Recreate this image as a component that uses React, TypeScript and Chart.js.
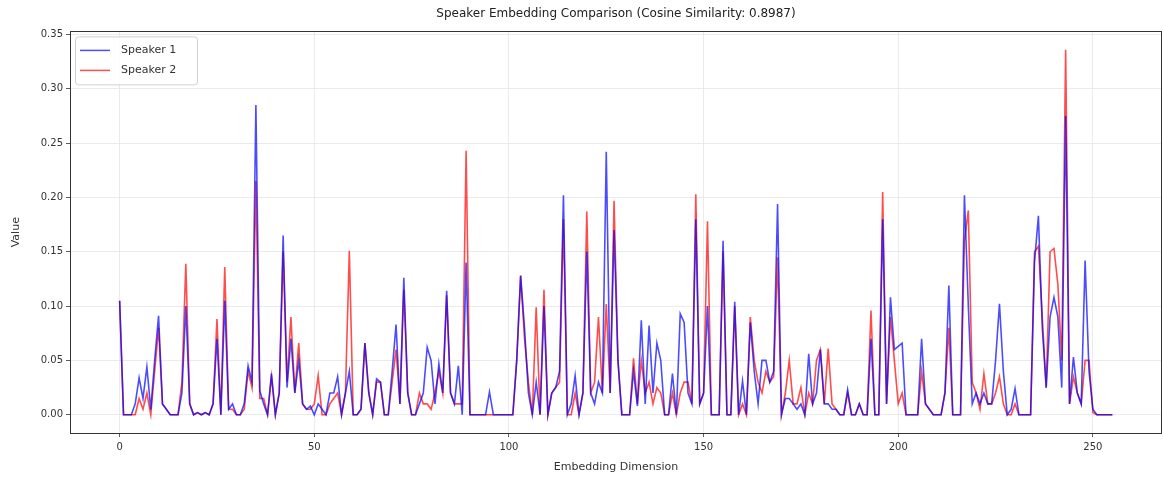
import React, { useEffect, useRef } from "react";
import { Chart, registerables } from "chart.js";

Chart.register(...registerables);

const dims: number[] = Array.from({ length: 256 }, (_, i) => i);

const speaker1: number[] = [
  0.105, 0, 0, 0, 0.01, 0.034, 0.015, 0.044, 0.005, 0.05, 0.091, 0.01, 0.005, 0, 0, 0,
  0.02, 0.1, 0.01, 0, 0.002, 0, 0.002, 0, 0.01, 0.07, 0, 0.105, 0.005, 0.01, 0, 0,
  0.01, 0.045, 0.03, 0.285, 0.022, 0.01, 0, 0.038, 0, 0.02, 0.165, 0.025, 0.07, 0.02, 0.05, 0.01,
  0.005, 0.008, 0, 0.01, 0.005, 0, 0.02, 0.02, 0.035, 0, 0.02, 0.04, 0, 0, 0.005, 0.066,
  0.02, 0, 0.033, 0.03, 0, 0, 0.04, 0.083, 0.01, 0.126, 0.02, 0, 0, 0.01, 0.02, 0.062,
  0.05, 0.01, 0.047, 0.02, 0.114, 0.02, 0.01, 0.045, 0, 0.14, 0, 0, 0, 0, 0, 0.021,
  0, 0, 0, 0, 0, 0, 0.05, 0.128, 0.08, 0.02, 0, 0.03, 0, 0.1, 0, 0.02,
  0.025, 0.04, 0.202, 0, 0.01, 0.036, 0, 0.02, 0.15, 0.02, 0.01, 0.03, 0.02, 0.242, 0.02, 0.17,
  0.05, 0, 0, 0, 0.04, 0.008, 0.087, 0.01, 0.082, 0.02, 0.066, 0.05, 0, 0, 0.038, 0,
  0.093, 0.085, 0.02, 0.01, 0.18, 0.01, 0.02, 0.1, 0, 0, 0, 0.16, 0, 0, 0.104, 0,
  0.031, 0, 0.085, 0.04, 0.01, 0.05, 0.05, 0.03, 0.04, 0.194, 0, 0.015, 0.015, 0.01, 0.005, 0.01,
  0, 0.056, 0.01, 0.02, 0.06, 0.01, 0.01, 0.005, 0.005, 0, 0, 0.023, 0, 0, 0.01, 0,
  0, 0.07, 0, 0, 0.18, 0.01, 0.108, 0.06, 0.063, 0.066, 0, 0, 0, 0, 0.07, 0.01,
  0.005, 0, 0, 0, 0.02, 0.119, 0, 0, 0, 0.202, 0.1, 0.01, 0.02, 0.01, 0.02, 0.01,
  0.01, 0.05, 0.102, 0.04, 0, 0.005, 0.024, 0, 0, 0, 0, 0.14, 0.183, 0.08, 0.025, 0.09,
  0.108, 0.09, 0.025, 0.275, 0.01, 0.053, 0.02, 0.01, 0.142, 0.04, 0.005, 0, 0, 0, 0, 0,
];

const speaker2: number[] = [
  0.105, 0, 0, 0, 0, 0.015, 0.005, 0.02, 0, 0.04, 0.08, 0.01, 0.005, 0, 0, 0,
  0.03, 0.139, 0.01, 0, 0.002, 0, 0.002, 0, 0.01, 0.088, 0, 0.136, 0.005, 0.005, 0, 0,
  0.005, 0.04, 0.025, 0.215, 0.015, 0.015, 0, 0.035, 0, 0.02, 0.15, 0.03, 0.09, 0.02, 0.066, 0.01,
  0.005, 0.005, 0.01, 0.036, 0, 0, 0.01, 0.015, 0.02, 0, 0.02, 0.151, 0, 0, 0.005, 0.066,
  0.02, 0, 0.03, 0.03, 0, 0, 0.03, 0.06, 0.01, 0.115, 0.02, 0, 0, 0.02, 0.01, 0.01,
  0.005, 0.02, 0.04, 0.02, 0.11, 0.02, 0.01, 0.01, 0.01, 0.243, 0, 0, 0, 0, 0, 0,
  0, 0, 0, 0, 0, 0, 0.05, 0.128, 0.07, 0.03, 0, 0.099, 0, 0.115, 0, 0.02,
  0.025, 0.03, 0.18, 0, 0, 0.02, 0, 0.02, 0.187, 0.02, 0.03, 0.09, 0.02, 0.102, 0.02, 0.197,
  0.05, 0, 0, 0, 0.052, 0.01, 0.05, 0.02, 0.03, 0.01, 0.025, 0.02, 0, 0, 0.02, 0,
  0.02, 0.03, 0.03, 0.01, 0.203, 0.01, 0.02, 0.178, 0, 0, 0, 0.15, 0, 0, 0.1, 0,
  0.01, 0, 0.09, 0.05, 0.03, 0.02, 0.04, 0.03, 0.035, 0.145, 0, 0.02, 0.05, 0.01, 0.01, 0.025,
  0, 0.02, 0.01, 0.05, 0.06, 0.01, 0.061, 0.01, 0.005, 0, 0, 0.02, 0, 0, 0.01, 0,
  0, 0.096, 0, 0, 0.205, 0.01, 0.09, 0.05, 0.01, 0.02, 0, 0, 0, 0, 0.04, 0.01,
  0.005, 0, 0, 0, 0.02, 0.08, 0, 0, 0, 0.16, 0.188, 0.03, 0.02, 0.005, 0.038, 0.01,
  0.01, 0.02, 0.035, 0.01, 0, 0, 0.01, 0, 0, 0, 0, 0.15, 0.155, 0.09, 0.025, 0.15,
  0.153, 0.12, 0.05, 0.336, 0.01, 0.035, 0.02, 0.01, 0.05, 0.05, 0.002, 0, 0, 0, 0, 0,
];

const xTicks: number[] = [0, 50, 100, 150, 200, 250];
const yTicks: number[] = [0, 0.05, 0.1, 0.15, 0.2, 0.25, 0.3, 0.35];

const seriesNames: string[] = ["Speaker 1", "Speaker 2"];
const seriesColors: string[] = ["rgba(0,0,255,0.7)", "rgba(255,0,0,0.7)"];
const titleText = "Speaker Embedding Comparison (Cosine Similarity: 0.8987)";

const FONT = "'DejaVu Sans', sans-serif";

const framePlugin = {
  id: "frameLegend",
  afterDraw(chart: any) {
    const { ctx, chartArea } = chart;
    ctx.save();
    ctx.strokeStyle = "#333";
    ctx.lineWidth = 1;
    ctx.strokeRect(
      Math.round(chartArea.left) + 0.5,
      Math.round(chartArea.top) + 0.5,
      Math.round(chartArea.right - chartArea.left) - 1,
      Math.round(chartArea.bottom - chartArea.top)
    );
    // legend box
    const bx = chartArea.left + 5;
    const by = chartArea.top + 5;
    const bw = 122;
    const bh = 48;
    ctx.fillStyle = "rgba(255,255,255,0.85)";
    ctx.strokeStyle = "#d0d0d0";
    ctx.lineWidth = 1;
    ctx.beginPath();
    (ctx as any).roundRect(bx + 0.5, by + 0.5, bw, bh, 3);
    ctx.fill();
    ctx.stroke();
    ctx.font = `11px ${FONT}`;
    ctx.textBaseline = "middle";
    ctx.textAlign = "left";
    seriesNames.forEach((name, i) => {
      const y = by + 14 + i * 20;
      ctx.strokeStyle = seriesColors[i];
      ctx.lineWidth = 1.5;
      ctx.beginPath();
      ctx.moveTo(bx + 5, y);
      ctx.lineTo(bx + 35, y);
      ctx.stroke();
      ctx.fillStyle = "#333";
      ctx.fillText(name, bx + 46, y);
    });
    ctx.restore();
  },
};

export default function App() {
  const canvasRef = useRef<HTMLCanvasElement | null>(null);

  useEffect(() => {
    document.body.style.margin = "0";
    const canvas = canvasRef.current;
    if (!canvas) return;
    const datasets = [speaker1, speaker2].map((vals, si) => ({
      label: seriesNames[si],
      data: dims.map((d, i) => ({ x: d, y: vals[i] })),
      borderColor: seriesColors[si],
      backgroundColor: seriesColors[si],
      borderWidth: 1.6,
      pointRadius: 0,
      tension: 0,
      fill: false,
    }));
    const chart = new Chart(canvas, {
      type: "line",
      data: { datasets },
      plugins: [framePlugin],
      options: {
        animation: false,
        responsive: false,
        devicePixelRatio: 1,
        layout: { padding: { left: 0, right: 1, top: 0, bottom: 0 } },
        plugins: {
          legend: { display: false },
          tooltip: { enabled: false },
          title: {
            display: true,
            fullSize: false,
            text: titleText,
            color: "#222",
            font: { family: FONT, size: 12, weight: "normal" },
            padding: { top: 7, bottom: 10 },
          },
        },
        scales: {
          x: {
            type: "linear",
            min: -12.75,
            max: 267.75,
            afterBuildTicks: (scale: any) => {
              scale.ticks = xTicks.map((v) => ({ value: v }));
            },
            afterFit: (scale: any) => {
              scale.height = 49;
            },
            grid: {
              color: "#e6e6e6",
              lineWidth: 0.8,
              tickColor: "#333",
              tickLength: 4,
              drawTicks: true,
            },
            border: { display: false },
            ticks: {
              color: "#333",
              font: { family: FONT, size: 10 },
              padding: 4,
              maxRotation: 0,
              autoSkip: false,
              callback: (v: any) => String(v),
            },
            title: {
              display: true,
              text: "Embedding Dimension",
              color: "#333",
              font: { family: FONT, size: 11 },
              padding: { top: 0, bottom: 8 },
            },
          },
          y: {
            type: "linear",
            min: -0.0168,
            max: 0.3528,
            afterBuildTicks: (scale: any) => {
              scale.ticks = yTicks.map((v) => ({ value: v }));
            },
            afterFit: (scale: any) => {
              scale.width = 70;
            },
            grid: {
              color: "#e6e6e6",
              lineWidth: 0.8,
              tickColor: "#333",
              tickLength: 4,
              drawTicks: true,
            },
            border: { display: false },
            ticks: {
              color: "#333",
              font: { family: FONT, size: 10 },
              padding: 3,
              autoSkip: false,
              callback: (v: any) => Number(v).toFixed(2),
            },
            title: {
              display: true,
              text: "Value",
              color: "#333",
              font: { family: FONT, size: 11 },
              padding: { top: 10, bottom: 0 },
            },
          },
        },
      },
    });
    return () => chart.destroy();
  }, []);

  return (
    <div style={{ position: "absolute", left: 0, top: 0, width: 1163, height: 482, background: "#fff" }}>
      <canvas ref={canvasRef} width={1163} height={482} />
    </div>
  );
}
